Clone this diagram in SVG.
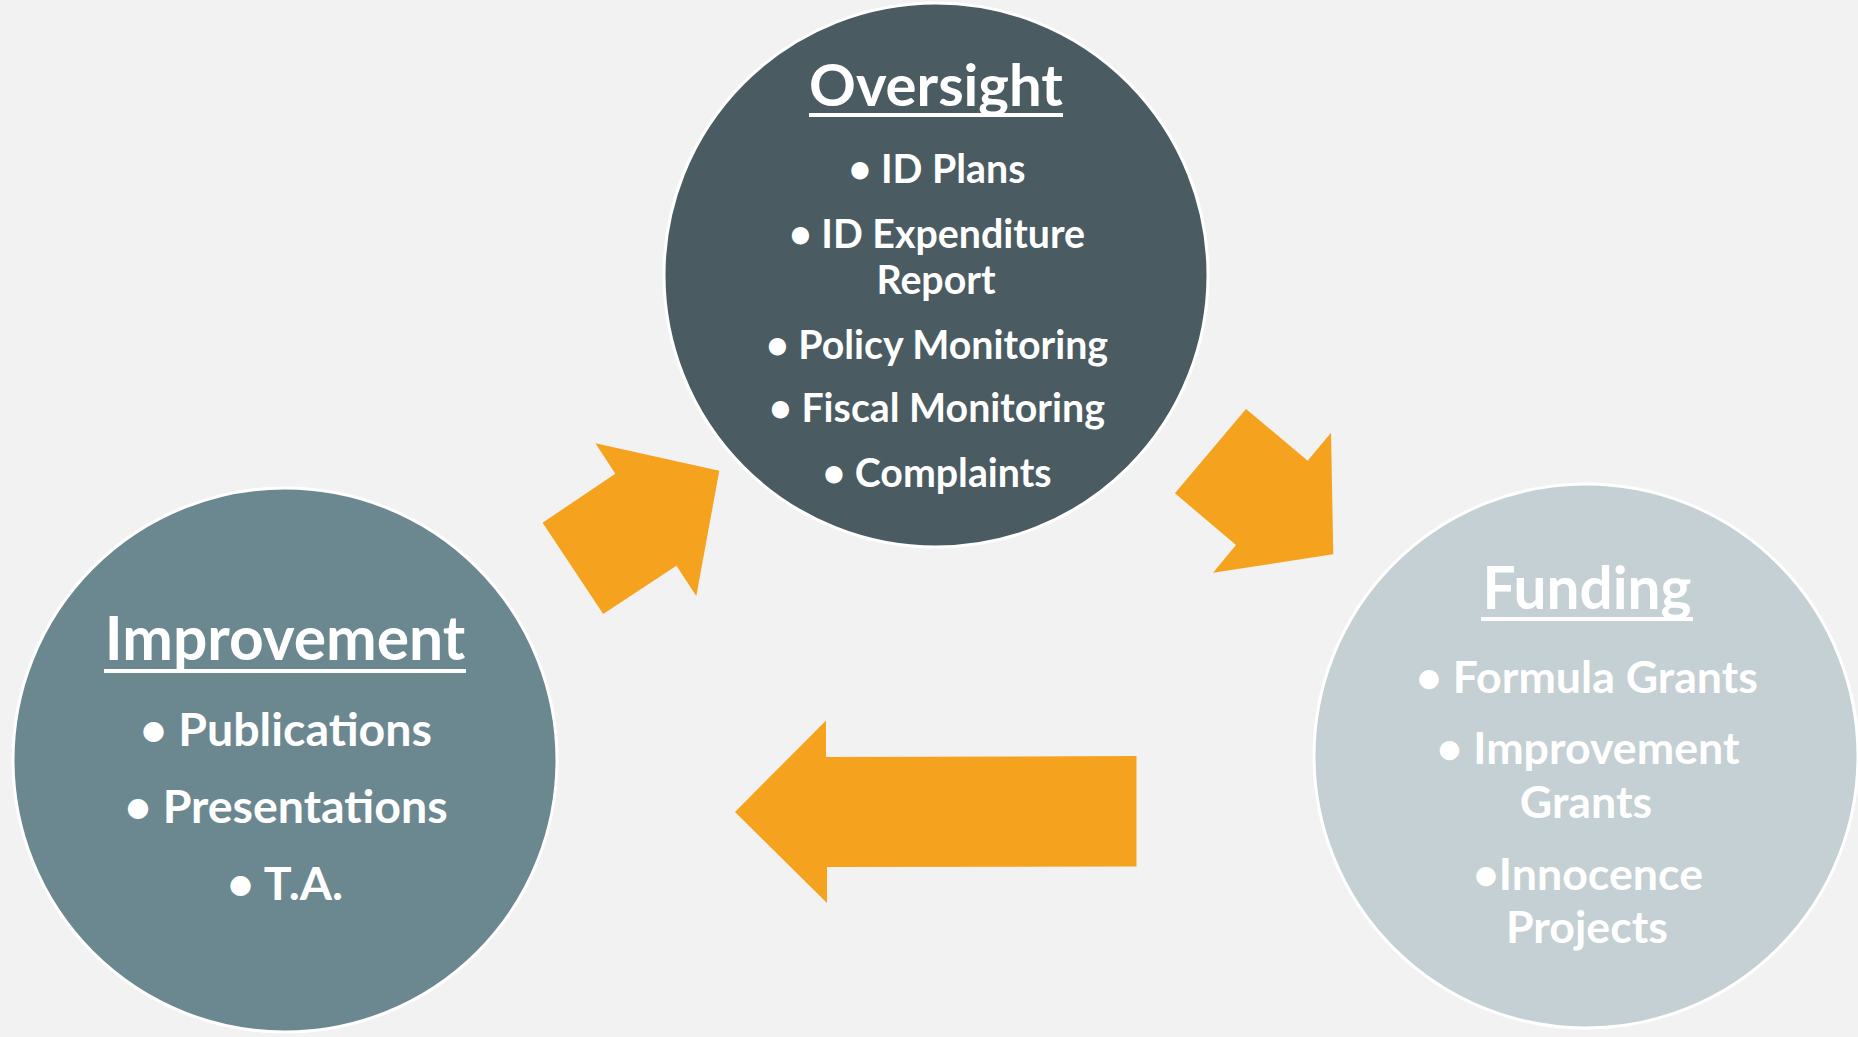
<svg xmlns="http://www.w3.org/2000/svg" width="1858" height="1037" viewBox="0 0 1858 1037">
<style>
.t{font-family:Lato,"Liberation Sans",sans-serif;font-weight:bold;fill:#ffffff;text-anchor:middle}
.h{font-size:58px}
.h2{font-size:60.5px}
.h3{font-size:58.5px}
.s1{font-size:39.3px}
.s2{font-size:46.5px}
.s3{font-size:44.7px}
.arrow{fill:#F5A31E}
.c{stroke:#ffffff;stroke-width:3}
</style>
<rect width="1858" height="1037" fill="#F2F2F2"/>
<g id="connectors">
<polygon class="arrow" points="595.4,443.3 719.3,470.7 696.3,596 676.4,565.7 603.2,614 542.6,522.7 615.3,473.7"/>
<polygon class="arrow" points="1246,409 1307.7,460.7 1331,432.7 1333.3,554.3 1213,572.7 1236,545 1174.9,493.3"/>
<polygon class="arrow" points="735,812 826,720.5 826,757 1136.5,756 1136.5,866.5 827,867 827,903"/>
</g>
<g id="oversight">
<circle class="c" cx="936" cy="275" r="272" fill="#4A5B62"/>
<text class="t h" x="936" y="106">Oversight</text>
<rect x="809" y="113" width="254" height="4" fill="#ffffff"/>
<text class="t s1" x="937" y="183">• ID Plans</text>
<text class="t s1" x="937" y="247.5">• ID Expenditure</text>
<text class="t s1" x="936" y="294">Report</text>
<text class="t s1" x="937" y="359">• Policy Monitoring</text>
<text class="t s1" x="937" y="422">• Fiscal Monitoring</text>
<text class="t s1" x="937" y="487">• Complaints</text>
</g>
<g id="improvement">
<circle class="c" cx="285" cy="760" r="272" fill="#6B8890"/>
<text class="t h2" x="285" y="660">Improvement</text>
<rect x="104" y="669" width="362" height="4" fill="#ffffff"/>
<text class="t s2" x="286" y="746">• Publications</text>
<text class="t s2" x="286" y="823">• Presentations</text>
<text class="t s2" x="285" y="900">• T.A.</text>
</g>
<g id="funding">
<circle class="c" cx="1586" cy="756" r="272" fill="#C4D0D3"/>
<text class="t h3" x="1587" y="609">Funding</text>
<rect x="1481" y="617" width="212" height="4" fill="#ffffff"/>
<text class="t s3" x="1587" y="692.5">• Formula Grants</text>
<text class="t s3" x="1588" y="764">• Improvement</text>
<text class="t s3" x="1586" y="818">Grants</text>
<text class="t s3" x="1588" y="890">•Innocence</text>
<text class="t s3" x="1587" y="942.5">Projects</text>
</g>
</svg>
